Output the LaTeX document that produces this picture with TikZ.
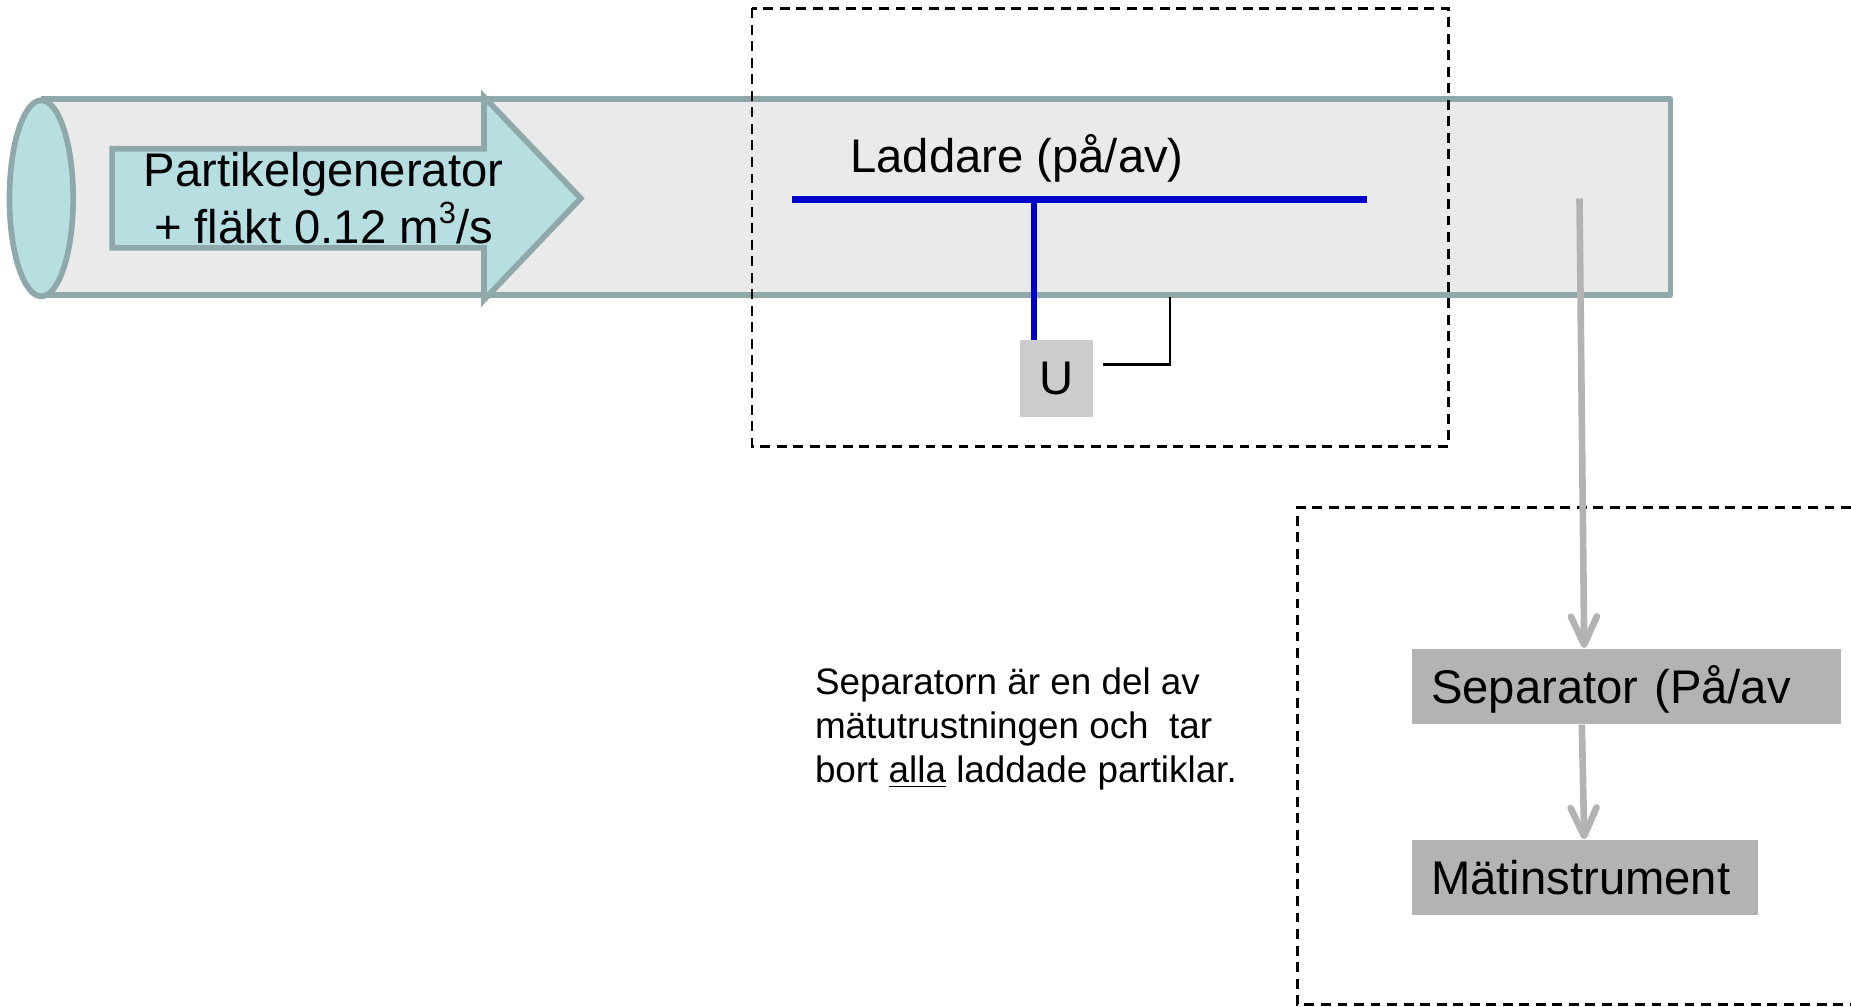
\documentclass[tikz,border=0pt]{standalone}
\usepackage{fontspec}
\setmainfont{Liberation Sans}
\usetikzlibrary{arrows.meta,calc}
\definecolor{tubefill}{HTML}{EAEAEA}
\definecolor{tubeline}{HTML}{8FA8A9}
\definecolor{cyanfill}{HTML}{B7DEE1}
\definecolor{ugray}{HTML}{CCCCCC}
\definecolor{boxgray}{HTML}{B3B3B3}
\definecolor{chargeblue}{HTML}{0000CC}
\tikzset{
  bigtext/.style={font=\fontsize{20pt}{24pt}\selectfont, inner sep=0pt},
  notetext/.style={font=\fontsize{15.6pt}{18.75pt}\selectfont, inner sep=0pt, align=left},
  graybox/.style={bigtext, fill=boxgray, anchor=north west, minimum height=32pt,
    inner xsep=8pt, inner ysep=0pt, align=left, text height=14.3pt, text depth=0pt},
  dashbox/.style={line width=1.1pt, dash pattern=on 4.2pt off 2.8pt},
  flow/.style={draw=boxgray, line width=2.8pt, -{Straight Barb[length=12pt,width=11pt,round]}},
  tubestroke/.style={draw=tubeline, line width=2.4pt, line join=round}
}
\newcommand{\supthree}{\raisebox{0.42em}{\fontsize{13pt}{13pt}\selectfont 3}}
\begin{document}
\begin{tikzpicture}[x=0.5pt,y=-0.5pt]
\useasboundingbox (0,0) rectangle (1568,853);
% tube
\fill[tubefill] (35,84) rectangle (1415,250);
\draw[tubestroke] (35,84) -- (1415,84) -- (1415,250) -- (35,250);
\filldraw[tubestroke, fill=cyanfill] (35,168) ellipse [x radius=13.5pt, y radius=41.5pt];
% generator arrow
\filldraw[tubestroke, fill=cyanfill, line join=miter]
  (95,126) -- (410,126) -- (410,82) -- (492,168) -- (410,254) -- (410,210) -- (95,210) -- cycle;
\node[bigtext, align=center] (gen) at (274,168) {Partikelgenerator\\+ fläkt 0.12 m\supthree/s};
% charger
\node[bigtext, anchor=base west] (ladd) at (720,146) {Laddare (på/av)};
\coordinate (b1) at (671,169);
\coordinate (b2) at (1158,169);
\coordinate (bt) at (876,169);
\node[bigtext, fill=ugray, minimum width=31pt, minimum height=32.5pt] (u) at (895,320.5) {U};
\draw[chargeblue, line width=3pt] (b1) -- (b2);
\draw[chargeblue, line width=2.5pt] (bt) -- (bt |- u.north);
\coordinate (w1) at (934,309);
\coordinate (w2) at (991,252);
\draw[line width=1.1pt] (w1) -| (w2);
% dashed boxes
\draw[dashbox] (637,7) rectangle (1227,378);
\draw[dashbox] (1568,430) -- (1099,430) -- (1099,851) -- (1568,851);
% separator chain
\node[graybox, text width=165.5pt] (sep) at (1196,549) {Separator (På/av};
\node[graybox, text width=130.5pt] (mat) at (1196,711) {Mätinstrument};
\coordinate (a1) at (1338,168);
\draw[flow] (a1) -- ($(sep.north west)+(146,0)$);
\draw[flow] ($(sep.south west)+(144,0)$) -- ($(mat.north west)+(146,0)$);
% note
\node[notetext, anchor=north west] (note) at (690,565) {Separatorn är en del av\\mätutrustningen och~ tar\\bort \underline{alla} laddade partiklar.};
\end{tikzpicture}
\end{document}
